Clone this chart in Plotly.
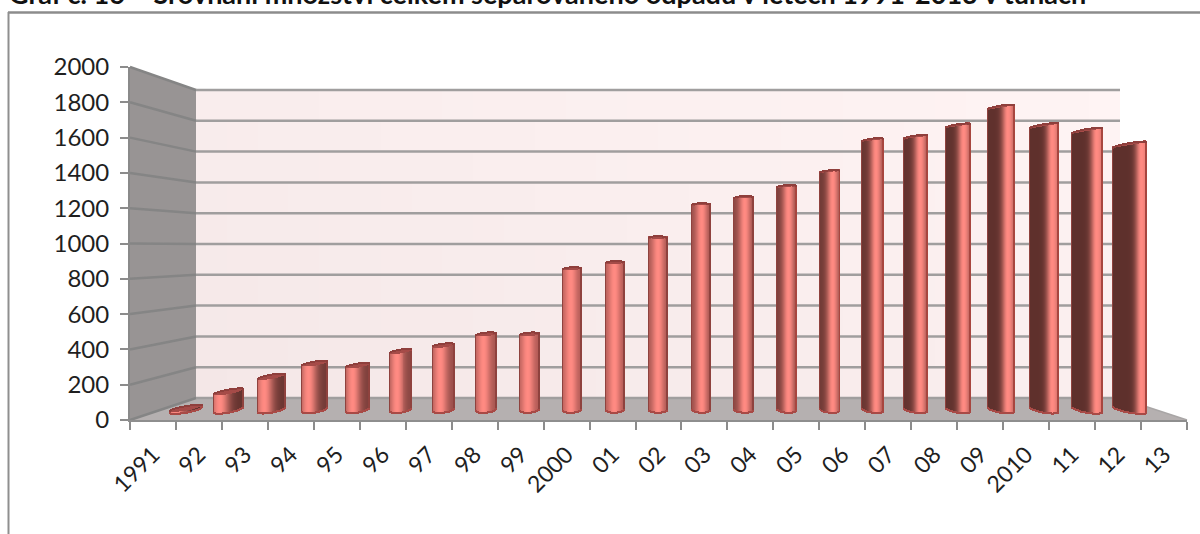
import math
import plotly.graph_objects as go

# ---- chart data ----
year_labels = ["1991", "92", "93", "94", "95", "96", "97", "98", "99", "2000", "01", "02",
               "03", "04", "05", "06", "07", "08", "09", "2010", "11", "12", "13"]
tonnes = [15, 115, 206, 285, 273, 358, 394, 461, 461, 857, 894, 1045,
          1245, 1288, 1355, 1445, 1637, 1655, 1724, 1837, 1724, 1694, 1609]
y_ticks = [0, 200, 400, 600, 800, 1000, 1200, 1400, 1600, 1800, 2000]
title_text = "Graf č. 16 – Srovnání množství celkem separovaného odpadu v letech 1991-2013 v tunách"

W, H = 1200, 534
FRONT_L, FRONT_R, FRONT_T, FRONT_B = 130, 1187, 67, 420
BACK_L, BACK_R, BACK_T, BACK_B = 196, 1120, 90, 398
BAR_X0, BAR_DX, BAR_Y0, PX_PER_UNIT = 186.0, 42.9, 410.0, 0.165


def px(x):
    return x / W


def py(y):
    return 1 - y / H


def hex2rgb(c):
    return tuple(int(c[i:i + 2], 16) for i in (1, 3, 5))


def mix(a, b, t):
    a, b = hex2rgb(a), hex2rgb(b)
    t = max(0, min(1, t))
    return "rgb(%d,%d,%d)" % tuple(round(a[k] + (b[k] - a[k]) * t) for k in range(3))


def mix_hex(a, b, t):
    a, b = hex2rgb(a), hex2rgb(b)
    t = max(0, min(1, t))
    return "#%02x%02x%02x" % tuple(round(a[k] + (b[k] - a[k]) * t) for k in range(3))


shapes = []


def poly(points, fill):
    d = "M" + " L".join(f"{px(x):.5f},{py(y):.5f}" for x, y in points) + " Z"
    shapes.append(dict(type="path", path=d, xref="paper", yref="paper", fillcolor=fill,
                       line=dict(width=0), layer="below"))


def seg(x0, y0, x1, y1, color, w=2.0):
    shapes.append(dict(type="line", x0=px(x0), y0=py(y0), x1=px(x1), y1=py(y1), xref="paper",
                       yref="paper", line=dict(color=color, width=w), layer="below"))


# back wall gradient
cols, rows = 30, 10
xs = [BACK_L + round((BACK_R - BACK_L) * k / cols) for k in range(cols + 1)]
ys = [BACK_T + round((BACK_B - BACK_T) * k / rows) for k in range(rows + 1)]
for c in range(cols):
    for r in range(rows):
        t = (c + .5) / cols * .55 + (rows - r - .5) / rows * .45
        shapes.append(dict(type="rect", x0=px(xs[c]), x1=px(xs[c + 1]), y0=py(ys[r]), y1=py(ys[r + 1]),
                           xref="paper", yref="paper", fillcolor=mix("#f4e7e7", "#fff4f4", t),
                           line=dict(width=0), layer="below"))
# side wall and floor
poly([(FRONT_L, FRONT_T), (BACK_L, BACK_T), (BACK_L, BACK_B), (FRONT_L, FRONT_B)], "#989494")
poly([(FRONT_L, FRONT_B), (FRONT_R, FRONT_B), (BACK_R, BACK_B), (BACK_L, BACK_B)], "#b5b0b0")
# gridlines
for v in y_ticks:
    yb = BACK_B - (BACK_B - BACK_T) * v / 2000
    yf = FRONT_B - (FRONT_B - FRONT_T) * v / 2000
    seg(FRONT_L, yf, BACK_L, yb, "#858585", 2.5)
    seg(BACK_L, yb, BACK_R, yb, "#a09e9e", 2.5)
seg(FRONT_R, FRONT_B, BACK_R, BACK_B, "#a9a6a6", 1.5)
# page frame
seg(8, 12.5, 1200, 12.5, "#8c8c8c", 2.5)
seg(8.5, 12, 8.5, 534, "#8f8f8f", 2)

# ---- cylinders, built from vertical strips so the shading follows the picture ----
sx, sbase, sh, sw, scol = [], [], [], [], []
cx, cbase, ch, cw, ccol = [], [], [], [], []


def to_units(p):
    return p / PX_PER_UNIT


for i, v in enumerate(tonnes):
    width_px = 19 + (0.11 if i < 11 else 0.125) * (i - 11) ** 2
    n = max(6, round(width_px))
    peak = 0.06 * (i - 10)
    sig_l = 0.7 - 0.03 * max(0, i - 10)
    sig_r = 0.65
    dark = mix_hex("#5e302c", "#b05a55", math.exp(-((i - 9) / 5) ** 2))
    low_tilt = 0.27 * (i - 11)          # px, bottom edge slope
    top_tilt = -0.27 * abs(i - 11)      # px, top edge slope
    top_y_px = BAR_Y0 - v * PX_PER_UNIT
    cap = max(0.0, min(3.0, (top_y_px - 150) / 80))
    for k in range(n):
        t = -1 + (2 * k + 1) / n
        arc = math.sqrt(max(0, 1 - t * t))
        x = i + (t * width_px / 2) / BAR_DX
        w = (width_px / n) / BAR_DX
        bottom = -(3.2 * arc + low_tilt * t)            # px upward, relative to the bar's value 0
        lower_top = cap * arc + top_tilt * t            # px downward from the top centre
        upper_top = -2.0 * arc + top_tilt * t
        body_top = v - to_units(lower_top)
        body_base = to_units(bottom)
        d = t - peak
        s = math.exp(-(d / (sig_l if d < 0 else sig_r)) ** 2)
        col = mix(dark, "#ff8a82", s)
        if k == 0 or k == n - 1:
            col = "#8f423e" if i < 14 or k == 0 else "#a8463f"
        sx.append(x); sw.append(w); sbase.append(body_base)
        sh.append(max(body_top - body_base, 0)); scol.append(col)
        # top cap
        cap_base = v - to_units(lower_top)
        cap_top = v - to_units(upper_top)
        if cap_top - cap_base > 0:
            cx.append(x); cw.append(w); cbase.append(cap_base); ch.append(cap_top - cap_base)
            ccol.append("#a54b48")
        # top rim
        cx.append(x); cw.append(w); cbase.append(cap_top - to_units(1.2)); ch.append(to_units(1.4))
        ccol.append("#8f3f3c")
        # bottom rim
        cx.append(x); cw.append(w); cbase.append(body_base); ch.append(to_units(1.2))
        ccol.append("#a84a46")

fig = go.Figure()
# invisible carrier so the category axis knows its labels
fig.add_trace(go.Scatter(x=year_labels, y=tonnes, mode="markers", marker=dict(opacity=0),
                         hoverinfo="skip", showlegend=False, xaxis="x", yaxis="y"))
fig.add_trace(go.Bar(x=sx, y=sh, base=sbase, width=sw, marker=dict(color=scol, line=dict(width=0)),
                     xaxis="x2", yaxis="y2", hoverinfo="skip", showlegend=False))
fig.add_trace(go.Bar(x=cx, y=ch, base=cbase, width=cw, marker=dict(color=ccol, line=dict(width=0)),
                     xaxis="x2", yaxis="y2", hoverinfo="skip", showlegend=False))

dom_x = [px(FRONT_L), px(FRONT_R)]
dom_y = [py(FRONT_B), py(FRONT_T)]
tick_font = dict(family="Lato, Carlito, sans-serif", size=24, color="#1f1f1f")
x_tick_font = dict(family="Lato, Carlito, sans-serif", size=23, color="#1f1f1f")
fig.update_layout(
    width=W, height=H, margin=dict(l=0, r=0, t=0, b=0, autoexpand=False),
    paper_bgcolor="white", plot_bgcolor="rgba(0,0,0,0)", barmode="overlay", bargap=0,
    shapes=shapes, showlegend=False,
    xaxis=dict(domain=dom_x, type="category", categoryorder="array", categoryarray=year_labels,
               range=[-0.5, 22.5], tickson="boundaries", ticks="outside", ticklen=8, tickwidth=2,
               tickcolor="#8c8c8c", showline=True, linecolor="#8e8e8e", linewidth=2, showgrid=False,
               zeroline=False, tickangle=-45, tickfont=x_tick_font, ticklabelstandoff=10,
               anchor="y", fixedrange=True),
    yaxis=dict(domain=dom_y, range=[0, 2000], tickmode="array", tickvals=y_ticks,
               ticktext=[str(t) for t in y_ticks], ticks="outside", ticklen=8, tickwidth=2,
               tickcolor="#8c8c8c", showline=True, linecolor="#8a8a8a", linewidth=2, showgrid=False,
               zeroline=False, tickfont=tick_font, ticklabelstandoff=6, anchor="x", fixedrange=True),
    xaxis2=dict(domain=dom_x, overlaying="x", anchor="y2", visible=False, fixedrange=True,
                range=[(FRONT_L - BAR_X0) / BAR_DX, (FRONT_R - BAR_X0) / BAR_DX]),
    yaxis2=dict(domain=dom_y, overlaying="y", anchor="x2", visible=False, fixedrange=True,
                range=[(BAR_Y0 - FRONT_B) / PX_PER_UNIT, (BAR_Y0 - FRONT_T) / PX_PER_UNIT]),
    annotations=[dict(text=f"<b>{title_text}</b>", xref="paper", yref="paper", x=px(7), y=py(12),
                      xanchor="left", yanchor="bottom", showarrow=False,
                      font=dict(family="Lato, Carlito, sans-serif", size=27, color="#111111"))],
)
fig.write_html("out.html", config=dict(displayModeBar=False, responsive=False),
               post_script="document.body.style.margin='0';document.body.style.overflow='hidden';")
